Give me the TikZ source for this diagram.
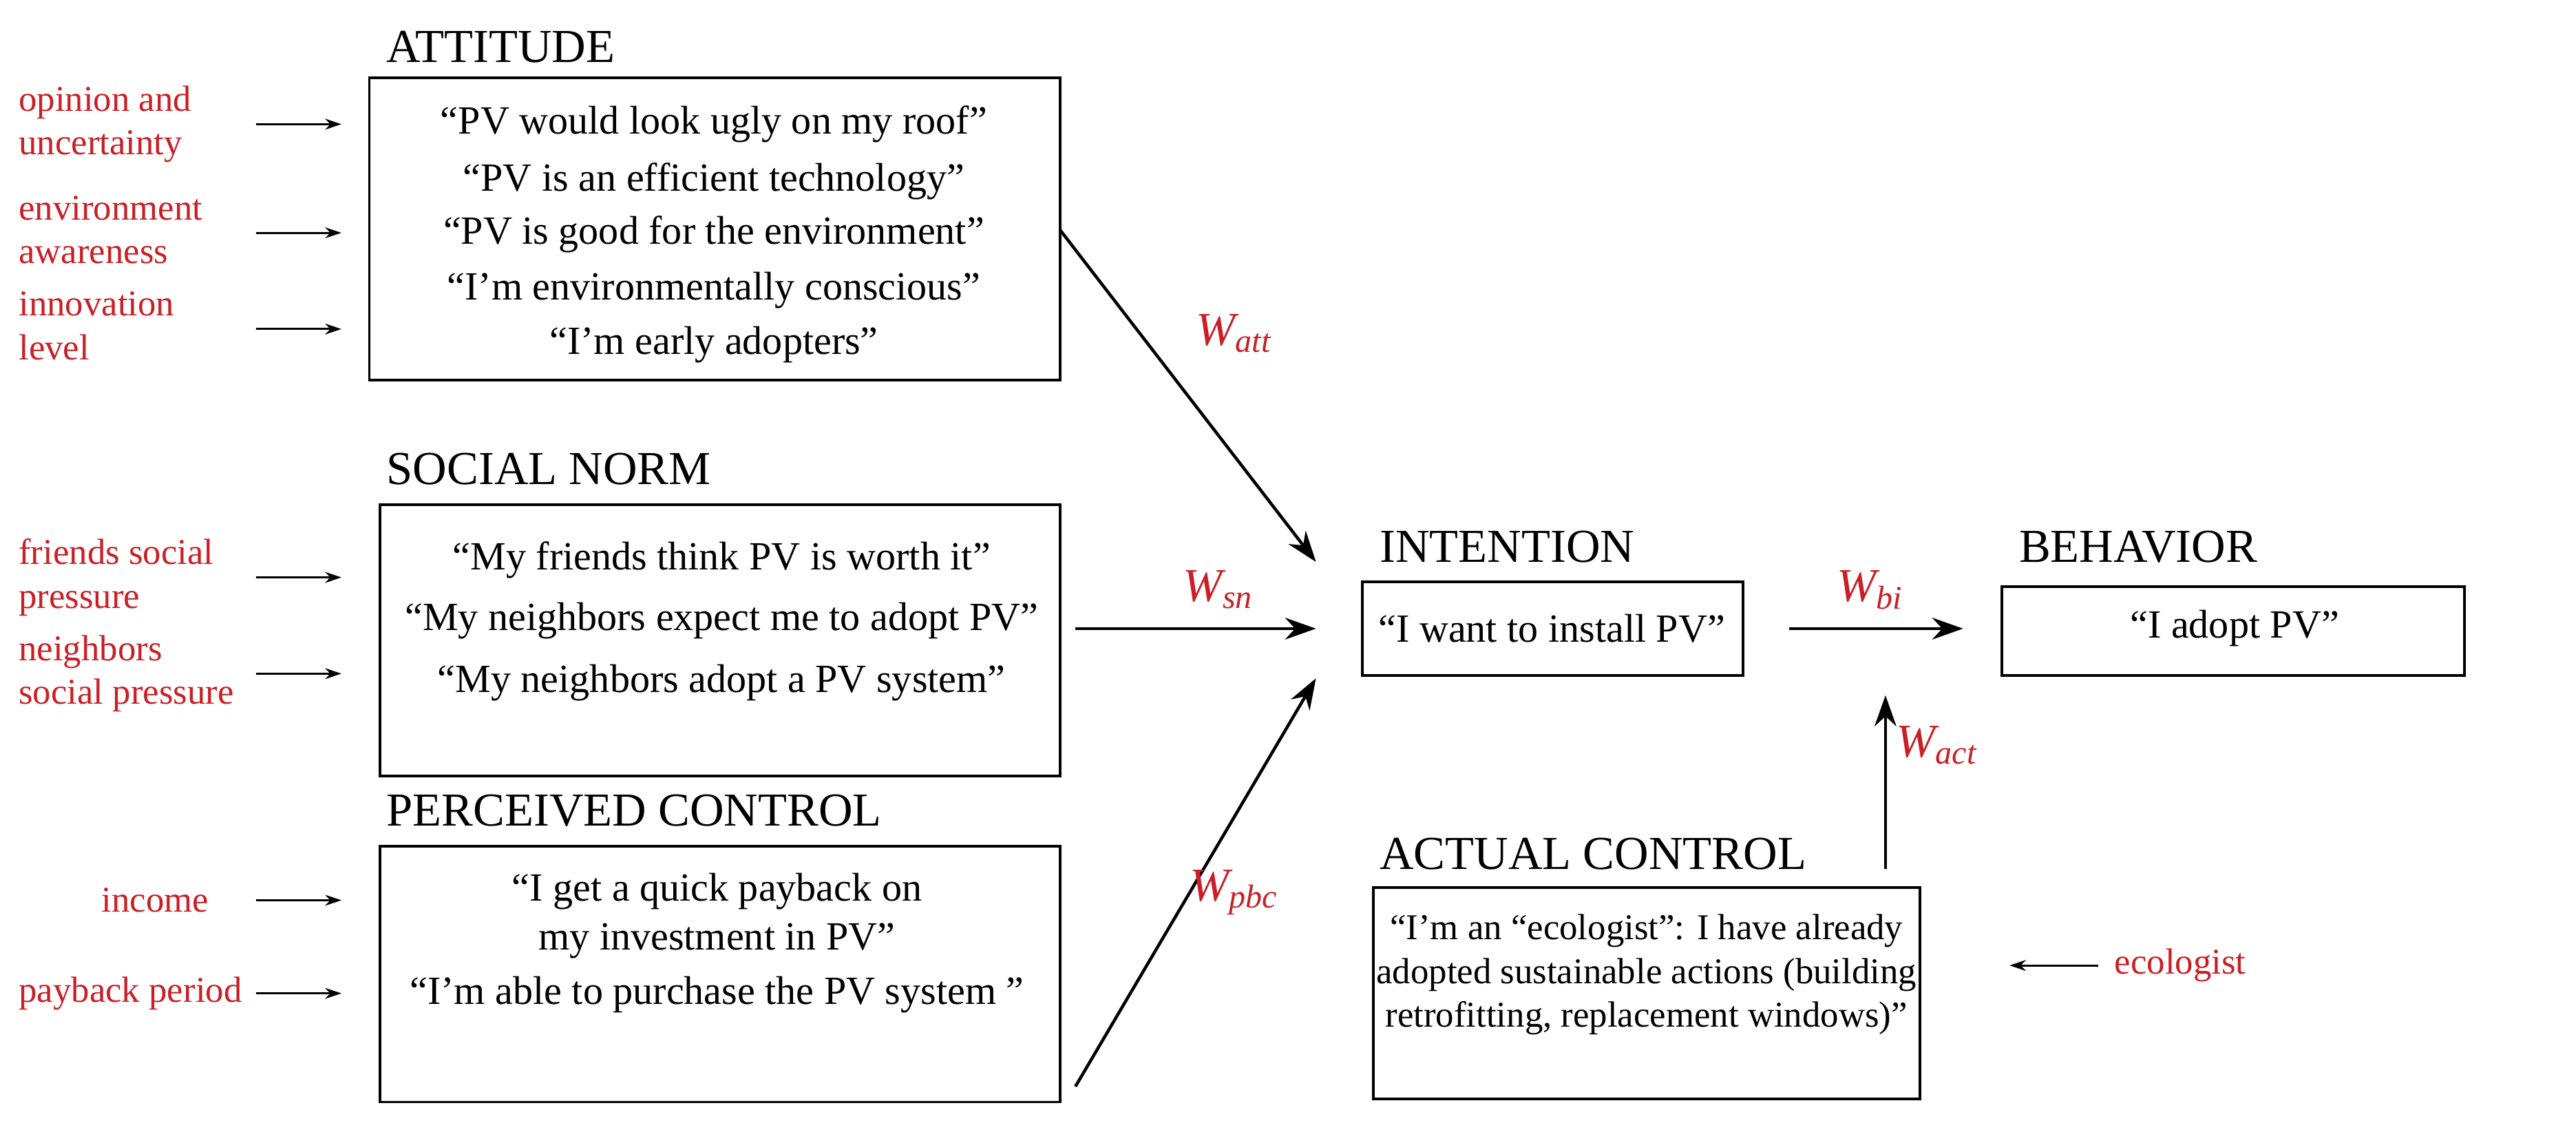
\documentclass[tikz,border=0pt]{standalone}
\usepackage{fontspec}
\setmainfont{Liberation Serif}
\usetikzlibrary{arrows.meta}
\definecolor{lred}{RGB}{200,32,38}
\begin{document}
\begin{tikzpicture}[x=0.03cm,y=-0.03cm,
  box/.style={draw,line width=1.5pt,inner sep=0pt,rectangle},
  ttl/.style={anchor=base west,font=\fontsize{26}{30}\selectfont},
  txt/.style={font=\fontsize{22}{27}\selectfont,align=center},
  stxt/.style={font=\fontsize{20}{24}\selectfont,align=center},
  red/.style={text=lred,font=\fontsize{20}{24}\selectfont,align=left},
  sarr/.style={-{Stealth[length=9pt,width=6pt]},line width=1.1pt},
  barr/.style={-{Stealth[length=17pt,width=12pt]},line width=1.7pt},
  wl/.style={text=lred,font=\fontsize{26}{30}\selectfont\itshape}]
\useasboundingbox (0,0) rectangle (1660,736);
% boxes
\node[box,minimum width=13.35cm,minimum height=5.85cm] (att) at (460.5,147.5) {};
\node[box,minimum width=13.14cm,minimum height=5.25cm] (sn) at (464,412.5) {};
\node[box,minimum width=13.14cm,minimum height=4.95cm] (pbc) at (464,627.5) {};
\node[box,minimum width=7.35cm,minimum height=1.8cm] (int) at (1000.5,405) {};
\node[box,minimum width=8.94cm,minimum height=1.71cm] (beh) at (1439,406.5) {};
\node[box,minimum width=10.56cm,minimum height=4.08cm] (ac) at (1061,640) {};
\coordinate (attE) at (683,148);
\coordinate (snE) at (693,405);
\coordinate (pbcE) at (693,700);
\coordinate (intA) at (848,362);
\coordinate (intB) at (848,405);
\coordinate (intC) at (848,437);
\coordinate (intE) at (1153,405);
\coordinate (behW) at (1265,405);
\coordinate (acN) at (1215,560);
\coordinate (intS) at (1215,448);
% titles
\node[ttl] (t1) at (245,40) {ATTITUDE};
\node[ttl] (t2) at (245,312) {SOCIAL NORM};
\node[ttl] (t3) at (245,532) {PERCEIVED CONTROL};
\node[ttl] (t4) at (885,362) {INTENTION};
\node[ttl] (t5) at (1297,362) {BEHAVIOR};
\node[ttl] (t6) at (885,560) {ACTUAL CONTROL};
% texts
\node[txt] (a1) at (460,80) {“PV would look ugly on my roof”};
\node[txt] (a2) at (460,117) {“PV is an efficient technology”};
\node[txt] (a3) at (460,151) {“PV is good for the environment”};
\node[txt] (a4) at (460,187) {“I’m environmentally conscious”};
\node[txt] (a5) at (460,222) {“I’m early adopters”};
\node[txt] (s1) at (465,361) {“My friends think PV is worth it”};
\node[txt] (s2) at (465,400) {“My neighbors expect me to adopt PV”};
\node[txt] (s3) at (465,440) {“My neighbors adopt a PV system”};
\node[txt] (p1) at (462,590) {“I get a quick payback on\\ my investment in PV”};
\node[txt] (p2) at (462,641) {“I’m able to purchase the PV system ”};
\node[txt] (i1) at (1000,405) {“I want to install PV”};
\node[txt] (b1) at (1440,405) {“I adopt PV”};
\node[stxt] (c1) at (1061,628) {“I’m an “ecologist”: I have already\\ adopted sustainable actions (building\\ retrofitting, replacement windows)”};
% red labels
\node[red,anchor=west] (r1) at (8,80) {opinion and\\uncertainty};
\node[red,anchor=west] (r2) at (8,148) {environment\\awareness};
\node[red,anchor=west] (r3) at (8,210) {innovation\\level};
\node[red,anchor=west] (r4) at (8,372) {friends social\\pressure};
\node[red,anchor=west] (r5) at (8,434) {neighbors\\social pressure};
\node[red] (r6) at (100,580) {income};
\node[red,anchor=west] (r7) at (8,640) {payback period};
\foreach \y/\n in {80/r1,150/r2,212/r3,372/r4,434/r5,580/r6,640/r7}{
  \coordinate (s\n) at (165,\y); \coordinate (e\n) at (220,\y);
  \draw[sarr] (s\n) -- (e\n);}
\node[red] (r8) at (1405,622) {ecologist};
\coordinate (ecoS) at (1352,622); \coordinate (ecoE) at (1295,622);
\draw[sarr] (ecoS) -- (ecoE);
% main arrows
\draw[barr] (attE) -- (intA);
\draw[barr] (snE) -- (intB);
\draw[barr] (pbcE) -- (intC);
\draw[barr] (intE) -- (behW);
\draw[barr] (acN) -- (intS);
\node[wl] (w1) at (795,215) {W\textsubscript{att}};
\node[wl] (w2) at (785,380) {W\textsubscript{sn}};
\node[wl] (w3) at (795,575) {W\textsubscript{pbc}};
\node[wl] (w4) at (1205,380) {W\textsubscript{bi}};
\node[wl] (w5) at (1248,480) {W\textsubscript{act}};
\end{tikzpicture}
\end{document}
